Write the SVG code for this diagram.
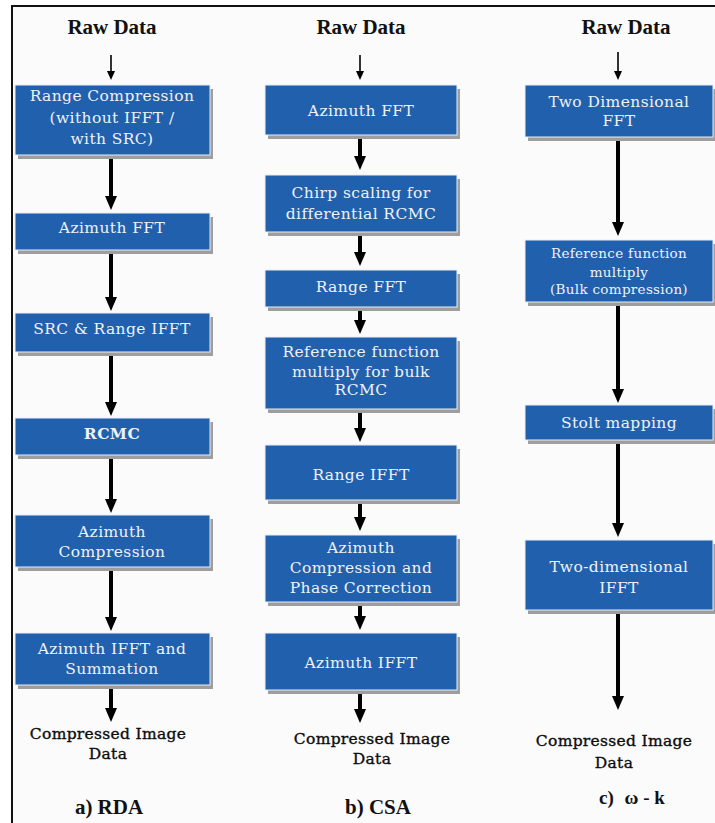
<svg xmlns="http://www.w3.org/2000/svg" width="715" height="823" viewBox="0 0 715 823">
<defs>
<style>
.bg{fill:#fbfbfb}
.frame{stroke:#111;stroke-width:2;fill:none}
.box{fill:#2160ac;stroke:#e9eef5;stroke-width:1}
.shd{fill:#9e9e9e}
.bt{font-family:"DejaVu Serif","Liberation Serif",serif;font-size:15.5px;letter-spacing:0.4px;fill:#eef2f8;text-anchor:middle}
.bts{font-size:13.5px;letter-spacing:0.3px}
.bold{font-weight:bold}
.hd{font-family:"Liberation Serif","Times New Roman",serif;font-size:21px;font-weight:bold;fill:#111;text-anchor:middle}
.out{font-family:"DejaVu Serif","Liberation Serif",serif;font-size:15.5px;fill:#0d0d0d;stroke:#0d0d0d;stroke-width:0.35;text-anchor:middle;letter-spacing:0.3px}
.lab{font-family:"Liberation Serif","Times New Roman",serif;font-size:21px;font-weight:bold;fill:#111;text-anchor:middle}
.thick{stroke:#000;stroke-width:4;marker-end:url(#hb)}
.thin{stroke:#000;stroke-width:1.6;marker-end:url(#hs)}
</style>
<marker id="hb" viewBox="0 0 14 12" markerWidth="14" markerHeight="12" refX="3" refY="6" orient="auto" markerUnits="userSpaceOnUse"><path d="M0,0 L14,6 L0,12 z" fill="#000"/></marker>
<marker id="hs" viewBox="0 0 9 8" markerWidth="9" markerHeight="8" refX="2" refY="4" orient="auto" markerUnits="userSpaceOnUse"><path d="M0,0 L9,4 L0,8 z" fill="#000"/></marker>
</defs>
<rect class="bg" x="12" y="6" width="703" height="817"/>
<path class="frame" d="M12,823 L12,6 L715,6"/>

<g id="connectors">
<!-- RDA -->
<line class="thin" x1="111" y1="55" x2="111" y2="73"/>
<line class="thick" x1="111" y1="158" x2="111" y2="199"/>
<line class="thick" x1="111" y1="253" x2="111" y2="300"/>
<line class="thick" x1="111" y1="355" x2="111" y2="405"/>
<line class="thick" x1="111" y1="458" x2="111" y2="502"/>
<line class="thick" x1="111" y1="570" x2="111" y2="620"/>
<line class="thick" x1="111" y1="688" x2="111" y2="711"/>
<!-- CSA -->
<line class="thin" x1="360" y1="55" x2="360" y2="73"/>
<line class="thick" x1="360" y1="138" x2="360" y2="159"/>
<line class="thick" x1="360" y1="235" x2="360" y2="255"/>
<line class="thick" x1="360" y1="309" x2="360" y2="323"/>
<line class="thick" x1="360" y1="412" x2="360" y2="431"/>
<line class="thick" x1="360" y1="503" x2="360" y2="520"/>
<line class="thick" x1="360" y1="604" x2="360" y2="619"/>
<line class="thick" x1="360" y1="693" x2="360" y2="712"/>
<!-- omega-k -->
<line class="thin" x1="618" y1="52" x2="618" y2="73"/>
<line class="thick" x1="618" y1="141" x2="618" y2="225"/>
<line class="thick" x1="618" y1="306" x2="618" y2="392"/>
<line class="thick" x1="618" y1="444" x2="618" y2="526"/>
<line class="thick" x1="618" y1="614" x2="618" y2="699"/>
</g>

<!-- RDA column -->
<g id="rda-raw"><text class="hd" x="112" y="34">Raw Data</text></g>
<g id="rda-1"><rect class="shd" x="18" y="89" width="195" height="70"/><rect class="box" x="15" y="85" width="195" height="70"/>
<text class="bt" x="112" y="101">Range Compression</text><text class="bt" x="112" y="123">(without IFFT /</text><text class="bt" x="112" y="144">with SRC)</text></g>
<g id="rda-2"><rect class="shd" x="18" y="217" width="195" height="37"/><rect class="box" x="15" y="213" width="195" height="37"/>
<text class="bt" x="112" y="233">Azimuth FFT</text></g>
<g id="rda-3"><rect class="shd" x="18" y="317" width="195" height="39"/><rect class="box" x="15" y="313" width="195" height="39"/>
<text class="bt" x="112" y="334">SRC &amp; Range IFFT</text></g>
<g id="rda-4"><rect class="shd" x="18" y="422" width="195" height="37"/><rect class="box" x="15" y="418" width="195" height="37"/>
<text class="bt bold" x="112" y="439">RCMC</text></g>
<g id="rda-5"><rect class="shd" x="18" y="519" width="195" height="52"/><rect class="box" x="15" y="515" width="195" height="52"/>
<text class="bt" x="112" y="537">Azimuth</text><text class="bt" x="112" y="557">Compression</text></g>
<g id="rda-6"><rect class="shd" x="18" y="637" width="195" height="52"/><rect class="box" x="15" y="633" width="195" height="52"/>
<text class="bt" x="112" y="654">Azimuth IFFT and</text><text class="bt" x="112" y="674">Summation</text></g>
<g id="rda-out"><text class="out" x="108" y="739">Compressed Image</text><text class="out" x="108" y="759">Data</text></g>
<g id="rda-label"><text class="lab" x="109" y="814">a) RDA</text></g>

<!-- CSA column -->
<g id="csa-raw"><text class="hd" x="361" y="34">Raw Data</text></g>
<g id="csa-1"><rect class="shd" x="268" y="89" width="192" height="50"/><rect class="box" x="265" y="85" width="192" height="50"/>
<text class="bt" x="361" y="116">Azimuth FFT</text></g>
<g id="csa-2"><rect class="shd" x="268" y="179" width="192" height="57"/><rect class="box" x="265" y="175" width="192" height="57"/>
<text class="bt" x="361" y="198">Chirp scaling for</text><text class="bt" x="361" y="219">differential RCMC</text></g>
<g id="csa-3"><rect class="shd" x="268" y="274" width="192" height="37"/><rect class="box" x="265" y="270" width="192" height="37"/>
<text class="bt" x="361" y="292">Range FFT</text></g>
<g id="csa-4"><rect class="shd" x="268" y="341" width="192" height="72"/><rect class="box" x="265" y="337" width="192" height="72"/>
<text class="bt" x="361" y="357">Reference function</text><text class="bt" x="361" y="377">multiply for bulk</text><text class="bt" x="361" y="395">RCMC</text></g>
<g id="csa-5"><rect class="shd" x="268" y="449" width="192" height="55"/><rect class="box" x="265" y="445" width="192" height="55"/>
<text class="bt" x="361" y="480">Range IFFT</text></g>
<g id="csa-6"><rect class="shd" x="268" y="539" width="192" height="67"/><rect class="box" x="265" y="535" width="192" height="67"/>
<text class="bt" x="361" y="553">Azimuth</text><text class="bt" x="361" y="573">Compression and</text><text class="bt" x="361" y="593">Phase Correction</text></g>
<g id="csa-7"><rect class="shd" x="268" y="637" width="192" height="57"/><rect class="box" x="265" y="633" width="192" height="57"/>
<text class="bt" x="361" y="668">Azimuth IFFT</text></g>
<g id="csa-out"><text class="out" x="372" y="744">Compressed Image</text><text class="out" x="372" y="764">Data</text></g>
<g id="csa-label"><text class="lab" x="378" y="814">b) CSA</text></g>

<!-- omega-k column -->
<g id="wk-raw"><text class="hd" x="626" y="34">Raw Data</text></g>
<g id="wk-1"><rect class="shd" x="528" y="89" width="188" height="52"/><rect class="box" x="525" y="85" width="188" height="52"/>
<text class="bt" x="619" y="107">Two Dimensional</text><text class="bt" x="619" y="126">FFT</text></g>
<g id="wk-2"><rect class="shd" x="528" y="244" width="188" height="62"/><rect class="box" x="525" y="240" width="188" height="62"/>
<text class="bt bts" x="619" y="258">Reference function</text><text class="bt bts" x="619" y="277">multiply</text><text class="bt bts" x="619" y="294">(Bulk compression)</text></g>
<g id="wk-3"><rect class="shd" x="528" y="409" width="188" height="35"/><rect class="box" x="525" y="405" width="188" height="35"/>
<text class="bt" x="619" y="428">Stolt mapping</text></g>
<g id="wk-4"><rect class="shd" x="528" y="544" width="188" height="70"/><rect class="box" x="525" y="540" width="188" height="70"/>
<text class="bt" x="619" y="572">Two-dimensional</text><text class="bt" x="619" y="593">IFFT</text></g>
<g id="wk-out"><text class="out" x="614" y="746">Compressed Image</text><text class="out" x="614" y="768">Data</text></g>
<g id="wk-label"><text class="lab" x="632" y="804" style="font-size:19px">c) <tspan dx="6">ω - k</tspan></text></g>
</svg>
